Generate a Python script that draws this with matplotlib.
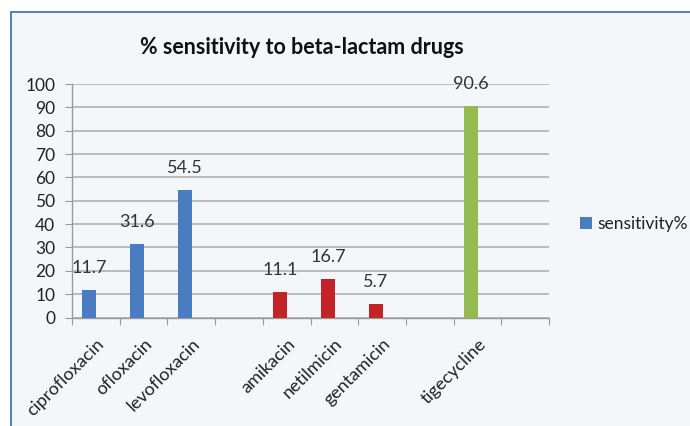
import matplotlib
matplotlib.use("Agg")
import matplotlib.pyplot as plt
from matplotlib.patches import Rectangle, Patch
from matplotlib.ticker import FixedLocator, NullFormatter

plt.rcParams['font.family'] = ['Lato', 'DejaVu Sans']

# Category slots (empty strings are spacer slots between drug groups)
categories = ["ciprofloxacin", "ofloxacin", "levofloxacin", "",
              "amikacin", "netilmicin", "gentamicin", "",
              "tigecycline", ""]
sensitivity = [11.7, 31.6, 54.5, None,
               11.1, 16.7, 5.7, None,
               90.6, None]
bar_colors = ["#4a7cc2", "#4a7cc2", "#4a7cc2", None,
              "#c42229", "#c42229", "#c42229", None,
              "#93bb4f", None]
series_name = "sensitivity%"
title = "% sensitivity to beta-lactam drugs"
y_ticks = list(range(0, 101, 10))

W, H = 690, 426
fig = plt.figure(figsize=(W / 100, H / 100), dpi=100, facecolor="white")

# chart area background with border
frame = Rectangle((11 / W, -0.05), 1.2, 1 - 12 / H + 0.05,
                  transform=fig.transFigure, facecolor="#f4f7f9",
                  edgecolor="#4a72b8", linewidth=1.3, zorder=-10)
fig.patches.append(frame)

ax = fig.add_axes([72 / W, 1 - 317.5 / H, (549 - 72) / W, (317.5 - 84) / H])
ax.set_facecolor("none")

n = len(categories)
offset = -0.135
width = 0.29
for i, (v, c) in enumerate(zip(sensitivity, bar_colors)):
    if v is None:
        continue
    ax.bar(i + offset, v, width=width, color=c, zorder=3)
    ax.annotate(f"{v:.1f}", (i + offset, v), xytext=(0, 10),
                textcoords="offset points", ha="center", va="bottom",
                fontsize=13, color="#333333", zorder=4)

ax.set_xlim(-0.5, n - 0.5)
ax.set_ylim(0, 100)
ax.set_yticks(y_ticks)
ax.tick_params(axis="y", length=5, color="#9a9a9a", labelsize=12.5,
               labelcolor="#222222", pad=7)
ax.yaxis.grid(True, color="#ababab", linewidth=1.1, zorder=0)
ax.set_axisbelow(True)

# tick marks at slot boundaries, labels at slot centres
ax.xaxis.set_major_locator(FixedLocator([i - 0.5 for i in range(n + 1)]))
ax.xaxis.set_major_formatter(NullFormatter())
ax.xaxis.set_minor_locator(FixedLocator(list(range(n))))
ax.set_xticklabels(categories, minor=True, rotation=45, ha="right",
                   va="top", rotation_mode="anchor", fontsize=13,
                   color="#222222")
ax.tick_params(axis="x", which="major", length=5, color="#9a9a9a")
ax.tick_params(axis="x", which="minor", length=0, pad=13)

for side in ("top", "right"):
    ax.spines[side].set_visible(False)
for side in ("left", "bottom"):
    ax.spines[side].set_color("#9a9a9a")
    ax.spines[side].set_linewidth(1)

fig.text(302 / W, 1 - 47 / H, title, ha="center", va="center",
         fontsize=15.5, fontweight="bold", color="#111111")

fig.legend(handles=[Patch(facecolor="#4a7cc2", label=series_name)],
           loc="center left", bbox_to_anchor=(564 / W, 1 - 224 / H),
           frameon=False, handlelength=0.7, handleheight=0.7,
           handletextpad=0.3, fontsize=12.5, labelcolor="#222222")

fig.savefig("out.png", dpi=100, facecolor="white")
